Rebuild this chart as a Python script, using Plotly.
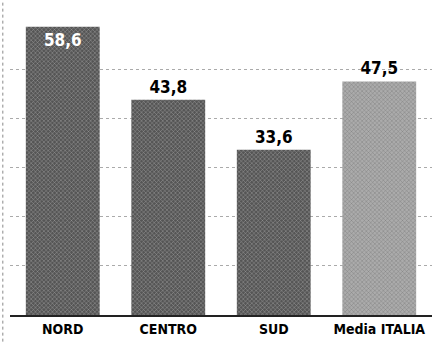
import plotly.graph_objects as go

categories = ["NORD", "CENTRO", "SUD", "Media ITALIA"]
values = [58.6, 43.8, 33.6, 47.5]
labels = ["58,6", "43,8", "33,6", "47,5"]
bar_colors = ["#555555", "#555555", "#555555", "#ababab"]
text_colors = ["white", "black", "black", "black"]
text_positions = ["inside", "outside", "outside", "outside"]

FONT = "Liberation Sans Narrow, DejaVu Sans Condensed, Arial Narrow, sans-serif"

fig = go.Figure(go.Bar(
    x=categories, y=values, text=labels,
    textposition=text_positions, insidetextanchor="end",
    textfont=dict(family=FONT, size=17, color=text_colors),
    constraintext="none", cliponaxis=False,
    marker=dict(color=bar_colors, line=dict(width=0),
                pattern=dict(shape="x", size=3, solidity=0.25, fgcolor="#888888")),
    outsidetextfont=dict(family=FONT, size=17, color="black"),
))

fig.update_layout(
    width=439, height=344,
    margin=dict(l=10, r=7, t=19, b=26),
    paper_bgcolor="white", plot_bgcolor="white",
    bargap=0.3, showlegend=False,
    font=dict(family=FONT),
    xaxis=dict(showgrid=False, showline=True, linecolor="#222222", linewidth=2,
               tickfont=dict(family=FONT, size=14, color="black"), ticks=""),
    yaxis=dict(range=[0, 60.2], tickvals=[10, 20, 30, 40, 50, 60], showticklabels=False,
               showgrid=True, gridcolor="#aaaaaa", griddash="dot", gridwidth=1,
               zeroline=False),
    shapes=[dict(type="line", xref="paper", yref="paper", x0=-0.017, x1=-0.017,
                 y0=-0.09, y1=1.07, line=dict(color="#888888", width=1, dash="dot"))],
)
fig.update_traces(texttemplate="<b>%{text}</b>")
fig.update_xaxes(tickvals=categories,
                 ticktext=["<b>" + c + "</b>" for c in categories])
fig.write_html("out.html")
